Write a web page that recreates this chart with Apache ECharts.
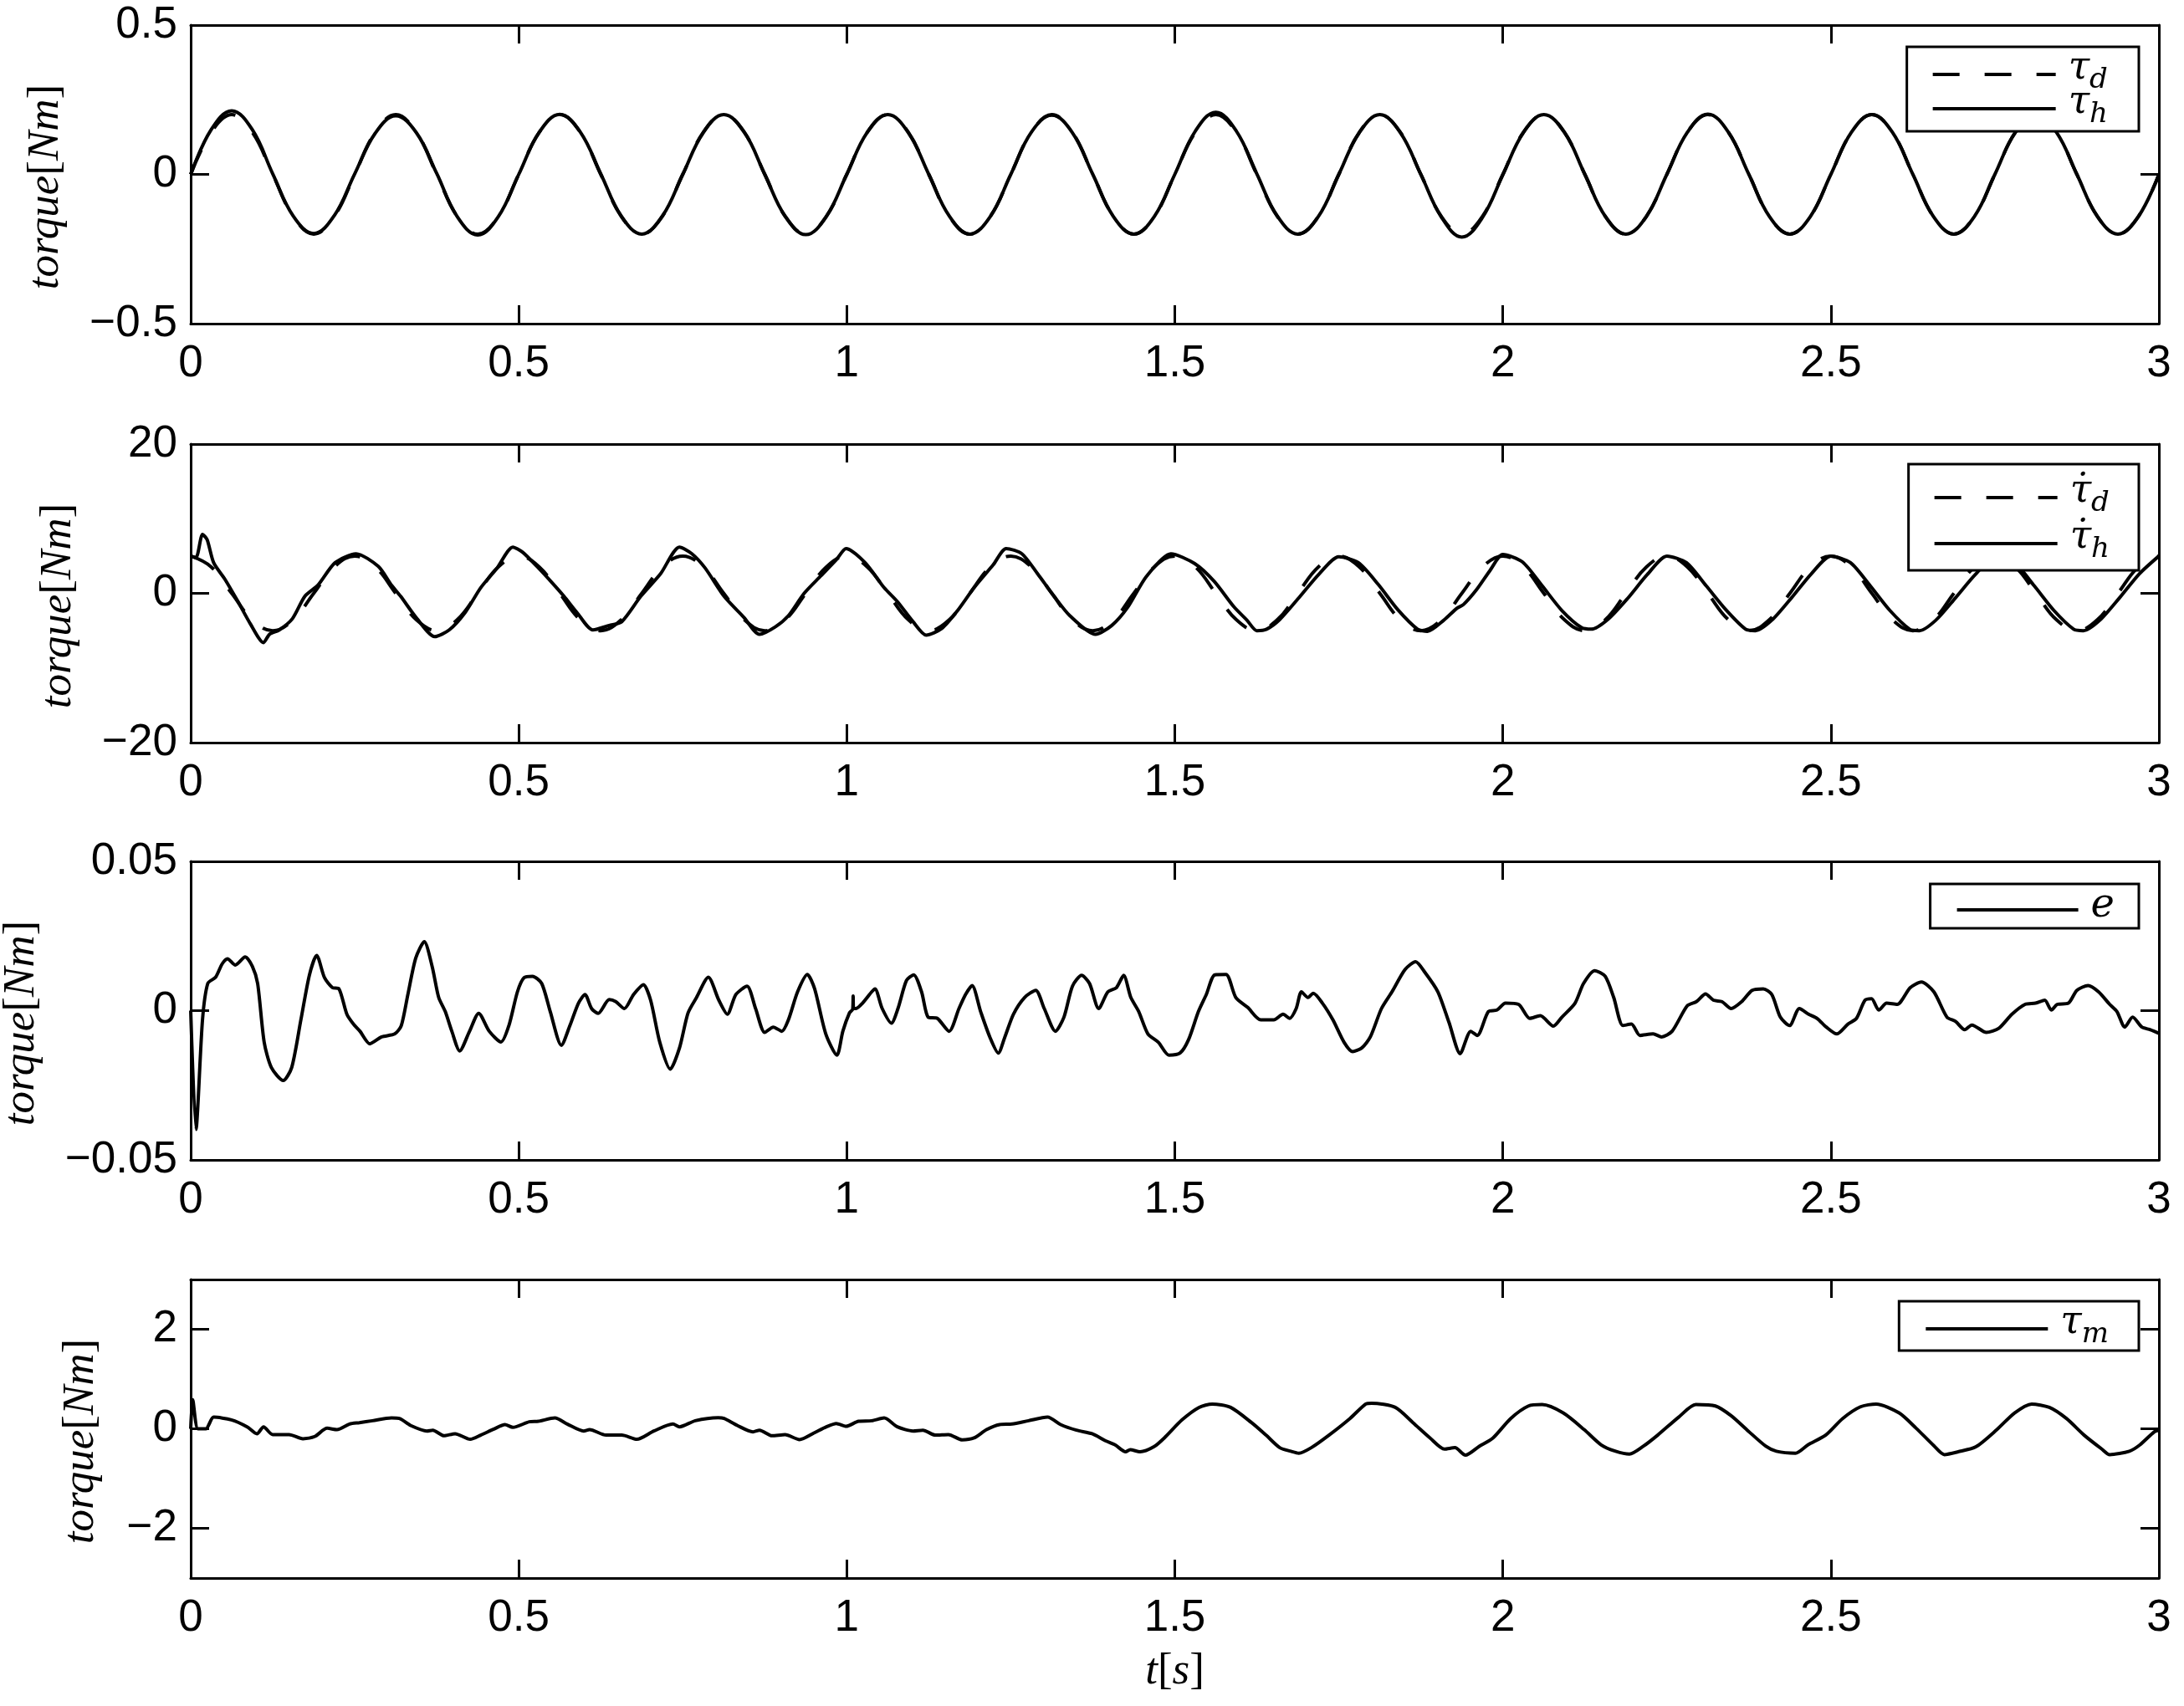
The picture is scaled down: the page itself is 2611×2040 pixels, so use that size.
<!DOCTYPE html>
<html><head><meta charset="utf-8">
<script src="https://cdn.jsdelivr.net/npm/echarts@6/dist/echarts.min.js"></script>
<style>html,body{margin:0;padding:0;background:#fff;}#c{width:2611px;height:2040px;}</style>
</head><body><div id="c"></div>
<script>
// ---------- data ----------
const xTickValues = [0, 0.5, 1, 1.5, 2, 2.5, 3];
const tauMTicks = [-2, 0, 2];

// uniform time grid (s) for the commanded / measured sinusoids
const tGrid = [
0,0.0313,0.0625,0.0938,0.125,0.1563,0.1875,0.2188,
0.25,0.2813,0.3125,0.3438,0.375,0.4063,0.4375,0.4688,
0.5,0.5313,0.5625,0.5938,0.625,0.6563,0.6875,0.7188,
0.75,0.7813,0.8125,0.8438,0.875,0.9063,0.9375,0.9688,
1,1.0313,1.0625,1.0938,1.125,1.1563,1.1875,1.2188,
1.25,1.2813,1.3125,1.3438,1.375,1.4063,1.4375,1.4688,
1.5,1.5313,1.5625,1.5938,1.625,1.6563,1.6875,1.7188,
1.75,1.7813,1.8125,1.8438,1.875,1.9063,1.9375,1.9688,
2,2.0313,2.0625,2.0938,2.125,2.1563,2.1875,2.2188,
2.25,2.2813,2.3125,2.3438,2.375,2.4063,2.4375,2.4688,
2.5,2.5313,2.5625,2.5938,2.625,2.6563,2.6875,2.7188,
2.75,2.7813,2.8125,2.8438,2.875,2.9063,2.9375,2.9688,
3];

// tau_d (dashed, top panel)
const tauD = [
0,0.141,0.2,0.141,0,-0.141,-0.2,-0.141,
0,0.141,0.2,0.141,0,-0.141,-0.2,-0.141,
0,0.141,0.2,0.141,0,-0.141,-0.2,-0.141,
0,0.141,0.2,0.141,0,-0.141,-0.2,-0.141,
0,0.141,0.2,0.141,0,-0.141,-0.2,-0.141,
0,0.141,0.2,0.141,0,-0.141,-0.2,-0.141,
0,0.141,0.2,0.141,0,-0.141,-0.2,-0.141,
0,0.141,0.2,0.141,0,-0.141,-0.2,-0.141,
0,0.141,0.2,0.141,0,-0.141,-0.2,-0.141,
0,0.141,0.2,0.141,0,-0.141,-0.2,-0.141,
0,0.141,0.2,0.141,0,-0.141,-0.2,-0.141,
0,0.141,0.2,0.141,0,-0.141,-0.2,-0.141,
0];
// tau_h (solid, top panel)
const tauH = [
0,0.15,0.213,0.15,0.002,-0.14,-0.198,-0.138,
0.002,0.138,0.196,0.14,0.003,-0.142,-0.203,-0.142,
0,0.141,0.201,0.142,0.002,-0.14,-0.2,-0.14,
0,0.14,0.2,0.141,0,-0.141,-0.202,-0.141,
0,0.141,0.2,0.14,0,-0.14,-0.2,-0.141,
0,0.141,0.198,0.14,0,-0.141,-0.2,-0.141,
0,0.145,0.208,0.145,0.002,-0.14,-0.2,-0.141,
0,0.14,0.2,0.14,0,-0.143,-0.21,-0.145,
-0.002,0.14,0.2,0.141,0,-0.141,-0.2,-0.141,
0,0.141,0.202,0.141,0,-0.141,-0.2,-0.141,
0,0.141,0.2,0.141,0,-0.141,-0.2,-0.141,
0,0.141,0.2,0.141,0,-0.141,-0.2,-0.141,
0];
// d(tau_d)/dt (dashed, second panel)
const tauDotD = [
5,3.54,0,-3.54,-5,-3.54,0,3.54,
5,3.54,0,-3.54,-5,-3.54,0,3.54,
5,3.54,0,-3.54,-5,-3.54,0,3.54,
5,3.54,0,-3.54,-5,-3.54,0,3.54,
5,3.54,0,-3.54,-5,-3.54,0,3.54,
5,3.54,0,-3.54,-5,-3.54,0,3.54,
5,3.54,0,-3.54,-5,-3.54,0,3.54,
5,3.54,0,-3.54,-5,-3.54,0,3.54,
5,3.54,0,-3.54,-5,-3.54,0,3.54,
5,3.54,0,-3.54,-5,-3.54,0,3.54,
5,3.54,0,-3.54,-5,-3.54,0,3.54,
5,3.54,0,-3.54,-5,-3.54,0,3.54,
5];
// d(tau_h)/dt (solid, second panel) [t, value]
const tauDotH = [
[0,5.0],[0.008,4.8],[0.018,7.9],[0.025,7.2],[0.035,4.1],[0.052,1.9],[0.072,-1.1],[0.091,-4.1],[0.111,-6.6],[0.12,-5.5],
[0.135,-4.9],[0.155,-3.4],[0.174,-0.4],[0.194,1.1],[0.22,4.1],[0.252,5.3],[0.286,3.6],[0.306,1.1],[0.32,-0.4],[0.345,-3.4],
[0.372,-5.8],[0.394,-4.9],[0.418,-2.6],[0.442,0.75],[0.467,3.4],[0.491,6.2],[0.506,5.5],[0.53,3.4],[0.55,1.5],[0.569,-0.4],
[0.589,-2.6],[0.613,-4.9],[0.638,-4.3],[0.657,-3.8],[0.686,-0.4],[0.716,2.6],[0.745,6.2],[0.764,5.3],[0.784,3.4],[0.813,-0.4],
[0.843,-3.2],[0.867,-5.5],[0.891,-4.5],[0.911,-3.0],[0.935,0],[0.96,2.3],[0.984,4.5],[0.999,6.0],[1.028,4.1],[1.057,0.75],
[1.077,-1.1],[1.101,-3.8],[1.121,-5.6],[1.145,-4.7],[1.169,-2.3],[1.194,0.75],[1.223,3.8],[1.243,6.0],[1.267,5.3],[1.291,2.6],
[1.316,-0.4],[1.34,-3.0],[1.379,-5.5],[1.404,-4.3],[1.428,-1.9],[1.457,2.3],[1.494,5.3],[1.53,4.0],[1.56,1.6],[1.59,-1.8],
[1.61,-3.6],[1.625,-5.0],[1.64,-4.8],[1.66,-3.5],[1.69,-0.5],[1.72,2.6],[1.75,4.9],[1.78,4.1],[1.81,1.2],[1.84,-2.2],
[1.87,-4.8],[1.885,-5.1],[1.91,-3.6],[1.93,-2.0],[1.94,-1.5],[1.96,0.5],[1.98,3.0],[2.0,5.2],[2.03,4.2],[2.06,1.0],
[2.09,-2.3],[2.12,-4.6],[2.135,-4.8],[2.16,-3.5],[2.19,-0.7],[2.22,2.5],[2.25,5.0],[2.28,4.1],[2.31,1.0],[2.34,-2.2],
[2.37,-4.8],[2.385,-5.0],[2.41,-3.6],[2.44,-0.6],[2.47,2.6],[2.5,5.0],[2.53,4.1],[2.56,1.0],[2.59,-2.3],[2.62,-4.8],
[2.635,-5.0],[2.66,-3.6],[2.69,-0.6],[2.72,2.5],[2.75,4.9],[2.78,4.1],[2.81,1.0],[2.84,-2.3],[2.87,-4.8],[2.885,-5.0],
[2.91,-3.6],[2.94,-0.6],[2.97,2.6],[3.0,5.0]];
// tracking error e (third panel) [t, value]
const errE = [
[0,0],[0.008,-0.0398],[0.018,-0.003],[0.026,0.0091],[0.038,0.0112],[0.048,0.0157],[0.056,0.0174],[0.068,0.0153],[0.083,0.018],[0.094,0.0148],
[0.102,0.0091],[0.112,-0.0106],[0.123,-0.0191],[0.141,-0.0234],[0.154,-0.019],[0.168,-0.003],[0.181,0.012],[0.192,0.0185],[0.204,0.011],[0.216,0.0077],
[0.226,0.0073],[0.238,-0.0012],[0.248,-0.0045],[0.258,-0.0069],[0.273,-0.0111],[0.291,-0.0088],[0.311,-0.0078],[0.321,-0.005],[0.331,0.0054],[0.343,0.0176],
[0.356,0.0231],[0.368,0.0148],[0.378,0.0044],[0.388,-0.0003],[0.398,-0.0069],[0.41,-0.0135],[0.425,-0.0069],[0.439,-0.0009],[0.455,-0.0069],[0.473,-0.0105],
[0.485,-0.005],[0.498,0.0063],[0.508,0.011],[0.521,0.0115],[0.535,0.0091],[0.548,-0.0003],[0.565,-0.0116],[0.578,-0.005],[0.591,0.0025],[0.601,0.0054],
[0.611,0.0007],[0.621,-0.0009],[0.638,0.0037],[0.648,0.003],[0.661,0.0007],[0.675,0.0054],[0.69,0.0087],[0.701,0.0035],[0.715,-0.0106],[0.731,-0.0196],
[0.745,-0.0125],[0.758,-0.0008],[0.771,0.0044],[0.789,0.0112],[0.805,0.0035],[0.818,-0.0012],[0.831,0.0054],[0.848,0.0082],[0.861,0.0007],[0.875,-0.0073],
[0.888,-0.0055],[0.901,-0.0069],[0.911,-0.0031],[0.925,0.0063],[0.94,0.0121],[0.951,0.0073],[0.968,-0.0078],[0.985,-0.0149],[0.994,-0.0069],[1.004,-0.0008],
[1.009,0.0005],[1.0097,0.0049],[1.0104,0.0007],[1.014,0.0007],[1.024,0.0025],[1.038,0.0063],[1.043,0.0073],[1.054,0.0007],[1.068,-0.0042],[1.078,0.0007],
[1.091,0.0101],[1.102,0.012],[1.114,0.0063],[1.124,-0.0022],[1.138,-0.0026],[1.156,-0.0069],[1.171,0.0007],[1.181,0.0054],[1.191,0.0084],[1.204,-0.0003],
[1.218,-0.0088],[1.231,-0.0142],[1.241,-0.0088],[1.254,-0.0012],[1.271,0.0044],[1.288,0.0068],[1.301,0.0007],[1.318,-0.0069],[1.331,-0.0022],[1.344,0.0082],
[1.358,0.0118],[1.37,0.0091],[1.384,0.0007],[1.398,0.0063],[1.411,0.0077],[1.422,0.0118],[1.433,0.0044],[1.445,-0.0003],[1.459,-0.0078],[1.475,-0.0106],
[1.491,-0.0149],[1.508,-0.0142],[1.521,-0.0097],[1.536,-0.0003],[1.548,0.0054],[1.561,0.012],[1.578,0.0121],[1.593,0.0044],[1.611,0.0011],[1.631,-0.0031],
[1.651,-0.0031],[1.665,-0.0012],[1.675,-0.0026],[1.685,0.0007],[1.693,0.0063],[1.703,0.0044],[1.711,0.0058],[1.725,0.0025],[1.741,-0.0031],[1.758,-0.0106],
[1.771,-0.0137],[1.785,-0.0125],[1.798,-0.0088],[1.815,0.0007],[1.831,0.0063],[1.851,0.0138],[1.867,0.0164],[1.881,0.0129],[1.901,0.0063],[1.918,-0.004],
[1.935,-0.0144],[1.951,-0.0069],[1.961,-0.0083],[1.978,-0.0003],[1.991,0.0002],[2.004,0.0025],[2.024,0.0021],[2.041,-0.0026],[2.057,-0.0017],[2.077,-0.0052],
[2.09,-0.0022],[2.11,0.0025],[2.123,0.0091],[2.14,0.0134],[2.156,0.0115],[2.169,0.0044],[2.183,-0.005],[2.196,-0.0045],[2.209,-0.0083],[2.229,-0.0078],
[2.242,-0.0088],[2.258,-0.0069],[2.281,0.0016],[2.295,0.003],[2.309,0.0056],[2.321,0.0035],[2.334,0.003],[2.348,0.0007],[2.364,0.003],[2.38,0.0068],
[2.397,0.0073],[2.41,0.0054],[2.423,-0.0022],[2.437,-0.005],[2.452,0.0007],[2.466,-0.0012],[2.479,-0.0026],[2.493,-0.0055],[2.509,-0.0078],[2.526,-0.0045],
[2.539,-0.0026],[2.552,0.0035],[2.562,0.004],[2.573,0.0002],[2.585,0.0025],[2.601,0.0021],[2.621,0.0077],[2.638,0.0096],[2.657,0.0063],[2.677,-0.0022],
[2.69,-0.0036],[2.704,-0.0064],[2.715,-0.0048],[2.737,-0.0073],[2.756,-0.0059],[2.776,-0.0012],[2.796,0.0021],[2.812,0.0025],[2.826,0.0035],[2.836,0.0002],
[2.845,0.0021],[2.862,0.0025],[2.875,0.0068],[2.892,0.0084],[2.908,0.0063],[2.925,0.0021],[2.936,-0.0003],[2.948,-0.0055],[2.96,-0.0022],[2.974,-0.0055],
[2.987,-0.0064],[3,-0.0076]];
// motor torque tau_m (bottom panel) [t, value]
const tauM = [
[0,0],[0.003,0.586],[0.011,0],[0.023,0],[0.035,0.234],[0.062,0.179],[0.086,0.039],[0.101,-0.1],[0.111,0.039],[0.125,-0.117],
[0.15,-0.117],[0.171,-0.2],[0.189,-0.156],[0.208,0.011],[0.223,-0.017],[0.242,0.095],[0.257,0.123],[0.277,0.162],[0.306,0.218],[0.318,0.207],
[0.335,0.067],[0.36,-0.045],[0.369,-0.028],[0.386,-0.14],[0.403,-0.1],[0.426,-0.212],[0.442,-0.128],[0.462,-0.006],[0.479,0.084],[0.491,0.028],
[0.516,0.14],[0.53,0.151],[0.555,0.218],[0.574,0.095],[0.599,-0.045],[0.608,-0.017],[0.633,-0.128],[0.657,-0.128],[0.68,-0.212],[0.706,-0.045],
[0.735,0.095],[0.745,0.039],[0.769,0.162],[0.804,0.223],[0.813,0.207],[0.833,0.067],[0.857,-0.061],[0.867,-0.028],[0.886,-0.14],[0.906,-0.117],
[0.928,-0.218],[0.95,-0.084],[0.969,0.039],[0.984,0.106],[0.999,0.05],[1.018,0.151],[1.038,0.162],[1.057,0.218],[1.077,0.039],[1.101,-0.045],
[1.116,-0.028],[1.135,-0.128],[1.155,-0.117],[1.176,-0.223],[1.194,-0.184],[1.213,-0.017],[1.233,0.084],[1.252,0.095],[1.277,0.162],[1.306,0.234],
[1.326,0.084],[1.35,-0.028],[1.374,-0.1],[1.394,-0.24],[1.409,-0.324],[1.425,-0.463],[1.432,-0.419],[1.447,-0.463],[1.468,-0.363],[1.484,-0.184],
[1.511,0.179],[1.537,0.43],[1.557,0.497],[1.585,0.43],[1.617,0.123],[1.639,-0.128],[1.66,-0.38],[1.677,-0.452],[1.689,-0.491],[1.708,-0.38],
[1.735,-0.128],[1.767,0.207],[1.791,0.497],[1.8,0.514],[1.836,0.43],[1.863,0.123],[1.889,-0.184],[1.911,-0.408],[1.927,-0.38],[1.943,-0.53],
[1.964,-0.352],[1.985,-0.184],[2.012,0.207],[2.039,0.458],[2.06,0.486],[2.092,0.318],[2.124,-0.017],[2.15,-0.324],[2.172,-0.452],[2.193,-0.508],
[2.214,-0.352],[2.236,-0.128],[2.268,0.234],[2.294,0.486],[2.324,0.458],[2.348,0.262],[2.374,-0.045],[2.401,-0.352],[2.417,-0.452],[2.446,-0.491],
[2.465,-0.324],[2.492,-0.128],[2.518,0.207],[2.545,0.441],[2.569,0.497],[2.604,0.318],[2.63,0.011],[2.657,-0.341],[2.673,-0.519],[2.694,-0.463],
[2.721,-0.363],[2.753,-0.017],[2.78,0.318],[2.806,0.497],[2.833,0.43],[2.859,0.207],[2.886,-0.128],[2.913,-0.408],[2.925,-0.519],[2.955,-0.452],
[2.971,-0.324],[2.993,-0.061],[3,-0.03]];

// ---------- chart ----------
const SANS = 'Liberation Sans';
const SERIF = 'Liberation Serif';
const LSERIF = 'DejaVu Serif';
const BLACK = '#000';
const pairs = (ts, vs) => ts.map((t, i) => [t, vs[i]]);
const minusFmt = v => String(v).replace('-', '\u2212');

const gridTops = [30, 531, 1030, 1530];
const grids = gridTops.map(t => ({ left: 228, right: 30, top: t, height: 357, containLabel: false, outerBoundsMode: 'none' }));

const yCfg = [
  { min: -0.5, max: 0.5, interval: 0.5, gap: 146 },
  { min: -20, max: 20, interval: 20, gap: 131 },
  { min: -0.05, max: 0.05, interval: 0.05, gap: 175 },
  { min: -3, max: 3, custom: tauMTicks, gap: 104 }
];

const axisLine = { show: true, onZero: false, lineStyle: { color: BLACK, width: 3 } };
const tick = { show: true, inside: true, length: 22, lineStyle: { color: BLACK, width: 3 } };
const labelStyle = { color: BLACK, fontFamily: SANS, fontSize: 53 };
const richName = {
  i: { fontFamily: SERIF, fontStyle: 'italic', fontSize: 53, color: BLACK },
  u: { fontFamily: SERIF, fontSize: 53, color: BLACK }
};

const xAxes = [], yAxes = [];
grids.forEach((g, k) => {
  const last = k === 3;
  xAxes.push({
    type: 'value', gridIndex: k, position: 'bottom', min: 0, max: 3, interval: 0.5,
    axisLine, axisTick: tick, splitLine: { show: false },
    axisLabel: Object.assign({ margin: 22, formatter: minusFmt }, labelStyle),
    name: last ? '{i|t}{u|[}{i|s}{u|]}' : '', nameLocation: 'middle', nameGap: 86,
    nameTextStyle: { rich: richName }
  });
  xAxes.push({
    type: 'value', gridIndex: k, position: 'top', min: 0, max: 3, interval: 0.5,
    axisLine, axisTick: tick, axisLabel: { show: false }, splitLine: { show: false }
  });
  const c = yCfg[k];
  const yl = {
    type: 'value', gridIndex: k, position: 'left', min: c.min, max: c.max,
    axisLine, axisTick: Object.assign({}, tick), splitLine: { show: false },
    axisLabel: Object.assign({ margin: 16, formatter: minusFmt }, labelStyle),
    name: '{i|torque}{u|[}{i|Nm}{u|]}', nameLocation: 'middle', nameGap: c.gap, nameRotate: 90,
    nameTextStyle: { rich: richName, padding: [0, 30, 0, 0] }
  };
  const yr = {
    type: 'value', gridIndex: k, position: 'right', min: c.min, max: c.max,
    axisLine, axisTick: Object.assign({}, tick), axisLabel: { show: false }, splitLine: { show: false }
  };
  if (c.custom) {
    yl.axisTick.customValues = c.custom; yl.axisLabel.customValues = c.custom;
    yr.axisTick.customValues = c.custom; yr.axisLabel.customValues = c.custom;
  } else { yl.interval = c.interval; yr.interval = c.interval; }
  yAxes.push(yl, yr);
});

const lineSeries = (name, k, data, dashed, smooth) => ({
  name, type: 'line', xAxisIndex: 2 * k, yAxisIndex: 2 * k, data,
  showSymbol: false, symbol: 'none', smooth,
  lineStyle: { color: BLACK, width: 4, type: dashed ? [32, 30] : 'solid' },
  itemStyle: { color: BLACK }, animation: false, silent: true, z: dashed ? 2 : 3
});

const series = [
  lineSeries('tau_d', 0, pairs(tGrid, tauD), true, 0.4),
  lineSeries('tau_h', 0, pairs(tGrid, tauH), false, 0.4),
  lineSeries('taudot_d', 1, pairs(tGrid, tauDotD), true, 0.4),
  lineSeries('taudot_h', 1, tauDotH, false, 0.25),
  lineSeries('e', 2, errE, false, 0.25),
  lineSeries('tau_m', 3, tauM, false, 0.25)
];

const legendText = {
  tau_d: '{m|\u03C4}{s|d}', tau_h: '{m|\u03C4}{s|h}',
  taudot_d: '{m|\u03C4\u0307}{s|d}', taudot_h: '{m|\u03C4\u0307}{s|h}',
  e: '{e|e}', tau_m: '{m|\u03C4}{s|m}'
};
const rich = {
  m: { fontFamily: LSERIF, fontStyle: 'italic', fontSize: 46, color: BLACK, verticalAlign: 'top', padding: [0, 0, 14, 10] },
  e: { fontFamily: LSERIF, fontStyle: 'italic', fontSize: 48, color: BLACK, verticalAlign: 'top', padding: [0, 0, 8, 10] },
  s: { fontFamily: LSERIF, fontStyle: 'italic', fontSize: 34, color: BLACK, verticalAlign: 'top', padding: [20, 0, 0, 0] }
};
const legendBase = {
  orient: 'vertical', right: 54, itemHeight: 45,
  borderColor: BLACK, borderWidth: 3, borderRadius: 0, backgroundColor: '#fff',
  itemStyle: { opacity: 0, borderWidth: 0 }, lineStyle: { width: 4 },
  selectedMode: false, formatter: n => legendText[n], textStyle: { rich }
};
const legends = [
  Object.assign({}, legendBase, { data: ['tau_d', 'tau_h'], top: 56, itemWidth: 147, itemGap: -13, padding: [3, 37, 3, 29] }),
  Object.assign({}, legendBase, { data: ['taudot_d', 'taudot_h'], top: 555, itemWidth: 147, itemGap: 1, padding: [10, 35, 8, 29] }),
  Object.assign({}, legendBase, { data: ['e'], top: 1057, itemWidth: 145, itemGap: 0, padding: [3, 29, 2, 30] }),
  Object.assign({}, legendBase, { data: ['tau_m'], top: 1556, itemWidth: 146, itemGap: 0, padding: [3, 36, 2, 30] })
];

const chart = echarts.init(document.getElementById('c'), null, { width: 2611, height: 2040 });
chart.setOption({
  animation: false, backgroundColor: '#fff',
  grid: grids, xAxis: xAxes, yAxis: yAxes, legend: legends, series
});
</script></body></html>
